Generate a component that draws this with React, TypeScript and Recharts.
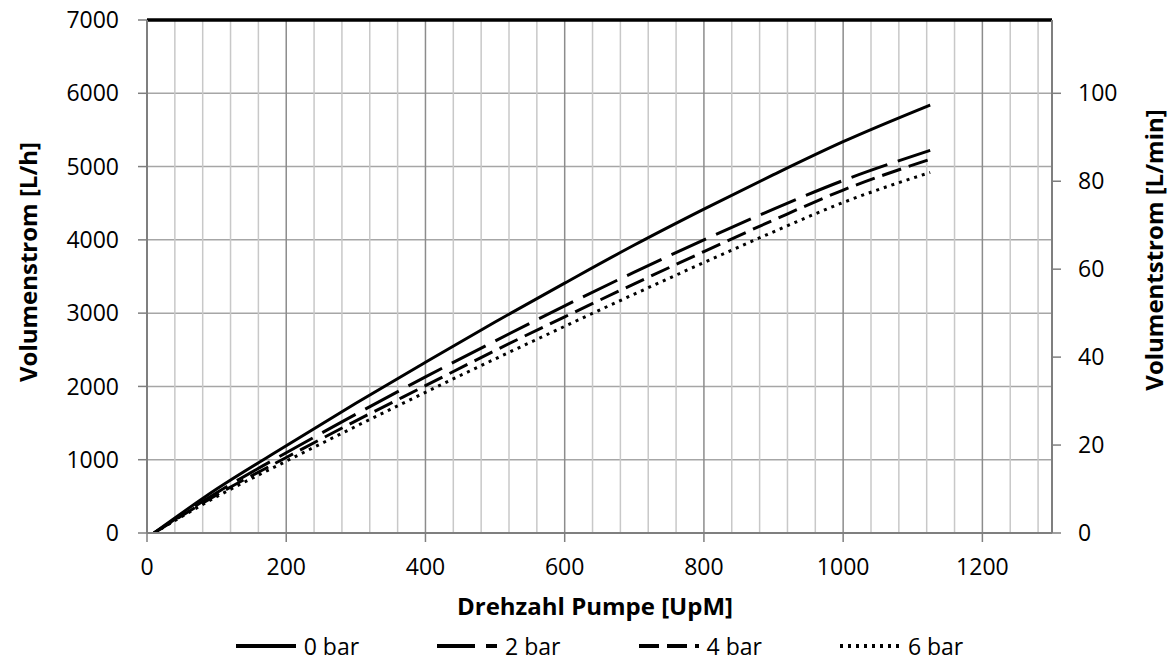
import React from "react";
import {
  LineChart,
  Line,
  XAxis,
  YAxis,
  CartesianGrid,
  ReferenceLine,
  Legend,
  Label,
} from "recharts";

// Drehzahl [UpM] of the measured points
const rpm = [10, 100, 200, 300, 400, 500, 600, 700, 800, 900, 1000, 1125];

// Volumenstrom [L/h] per pressure
const flow0bar = [0, 600, 1190, 1770, 2330, 2880, 3410, 3930, 4420, 4890, 5340, 5840];
const flow2bar = [0, 550, 1095, 1620, 2130, 2620, 3100, 3560, 4000, 4420, 4810, 5220];
const flow4bar = [0, 520, 1030, 1530, 2010, 2490, 2950, 3400, 3840, 4270, 4680, 5100];
const flow6bar = [0, 495, 980, 1455, 1920, 2375, 2820, 3260, 3690, 4110, 4510, 4920];

const xTicks = [0, 200, 400, 600, 800, 1000, 1200];
const yTicksLh = [0, 1000, 2000, 3000, 4000, 5000, 6000, 7000];
const yTicksLmin = [0, 20, 40, 60, 80, 100];
const xMax = 1300;

const font = "'Open Sans', sans-serif";

const series = [
  { name: "0 bar", values: flow0bar, dash: undefined },
  { name: "2 bar", values: flow2bar, dash: "38 11" },
  { name: "4 bar", values: flow4bar, dash: "20 8" },
  { name: "6 bar", values: flow6bar, dash: "3 5" },
];

const toPoints = (values: number[]) =>
  rpm.map((r, i) => ({ rpm: r, flow: values[i] }));

// minor vertical grid every 40 UpM, major every 200
const minorGrid: number[] = [];
for (let v = 40; v < xMax; v += 40) if (v % 200 !== 0) minorGrid.push(v);
const majorGrid = xTicks.filter((v) => v > 0);

const gridGen = (values: number[]) => (props: any) => {
  const off = props?.offset;
  if (!off) return [];
  return values.map((v) => off.left + (v / xMax) * off.width);
};

const AxisTitle = ({ x, y, angle, text }: { x: number; y: number; angle?: number; text: string }) => (
  <text
    x={x}
    y={y}
    transform={angle ? `rotate(${angle} ${x} ${y})` : undefined}
    textAnchor="middle"
    dominantBaseline="central"
    fill="#000"
    style={{ fontFamily: font, fontWeight: 700, fontSize: 24 }}
  >
    {text}
  </text>
);

const LegendRow = () => (
  <div
    style={{
      display: "flex",
      justifyContent: "center",
      alignItems: "center",
      height: 40,
      paddingTop: 10,
      paddingLeft: 147,
      paddingRight: 120,
      boxSizing: "border-box",
      gap: 78,
      fontFamily: font,
      fontSize: 23,
      color: "#000",
    }}
  >
    {series.map((s) => (
      <div key={s.name} style={{ display: "flex", alignItems: "center" }}>
        <svg width={60} height={10} style={{ marginRight: 8 }}>
          <line x1={0} y1={5} x2={60} y2={5} stroke="#000" strokeWidth={4} strokeDasharray={s.dash} />
        </svg>
        <span>{s.name}</span>
      </div>
    ))}
  </div>
);

const tickStyle = { fill: "#000", fontSize: 23, fontFamily: font };
const axisLine = { stroke: "#7f7f7f", strokeWidth: 2 };
const tickLine = { stroke: "#7f7f7f", strokeWidth: 1.5 };

export default function App() {
  return (
    <div style={{ position: "absolute", left: 0, top: 0, background: "#fff" }}>
      <LineChart width={1172} height={661} margin={{ top: 20, right: 0, bottom: 0, left: 0 }}>
        <CartesianGrid yAxisId="left" vertical={false} stroke="#a6a6a6" strokeWidth={1.5} />
        <CartesianGrid
          yAxisId="left"
          horizontal={false}
          verticalCoordinatesGenerator={gridGen(minorGrid)}
          stroke="#c8c8c8"
          strokeWidth={1.5}
        />
        <CartesianGrid
          yAxisId="left"
          horizontal={false}
          verticalCoordinatesGenerator={gridGen(majorGrid)}
          stroke="#8c8c8c"
          strokeWidth={1.5}
        />
        <XAxis
          dataKey="rpm"
          type="number"
          domain={[0, xMax]}
          ticks={xTicks}
          interval={0}
          allowDataOverflow
          height={88}
          tickSize={9}
          tickMargin={17}
          axisLine={axisLine}
          tickLine={tickLine}
          tick={tickStyle}
        >
          <Label content={() => <AxisTitle x={595} y={605} text="Drehzahl Pumpe [UpM]" />} />
        </XAxis>
        <YAxis
          yAxisId="left"
          type="number"
          domain={[0, 7000]}
          ticks={yTicksLh}
          interval={0}
          allowDataOverflow
          width={147}
          tickSize={9}
          tickMargin={19}
          axisLine={axisLine}
          tickLine={tickLine}
          tick={tickStyle}
        >
          <Label content={() => <AxisTitle x={27} y={262} angle={-90} text="Volumenstrom [L/h]" />} />
        </YAxis>
        <YAxis
          yAxisId="right"
          orientation="right"
          type="number"
          domain={[0, 7000 / 60]}
          ticks={yTicksLmin}
          interval={0}
          allowDataOverflow
          width={120}
          tickSize={9}
          tickMargin={17}
          axisLine={axisLine}
          tickLine={tickLine}
          tick={tickStyle}
        >
          <Label content={() => <AxisTitle x={1153} y={250} angle={-90} text="Volumentstrom [L/min]" />} />
        </YAxis>
        <ReferenceLine yAxisId="left" y={7000} stroke="#000" strokeWidth={3.5} />
        {series.map((s) => (
          <Line
            key={s.name}
            yAxisId="left"
            data={toPoints(s.values)}
            dataKey="flow"
            name={s.name}
            type="monotone"
            stroke="#000"
            strokeWidth={3}
            strokeDasharray={s.dash}
            dot={false}
            activeDot={false}
            isAnimationActive={false}
          />
        ))}
        <Legend verticalAlign="bottom" height={40} content={() => <LegendRow />} />
      </LineChart>
    </div>
  );
}
